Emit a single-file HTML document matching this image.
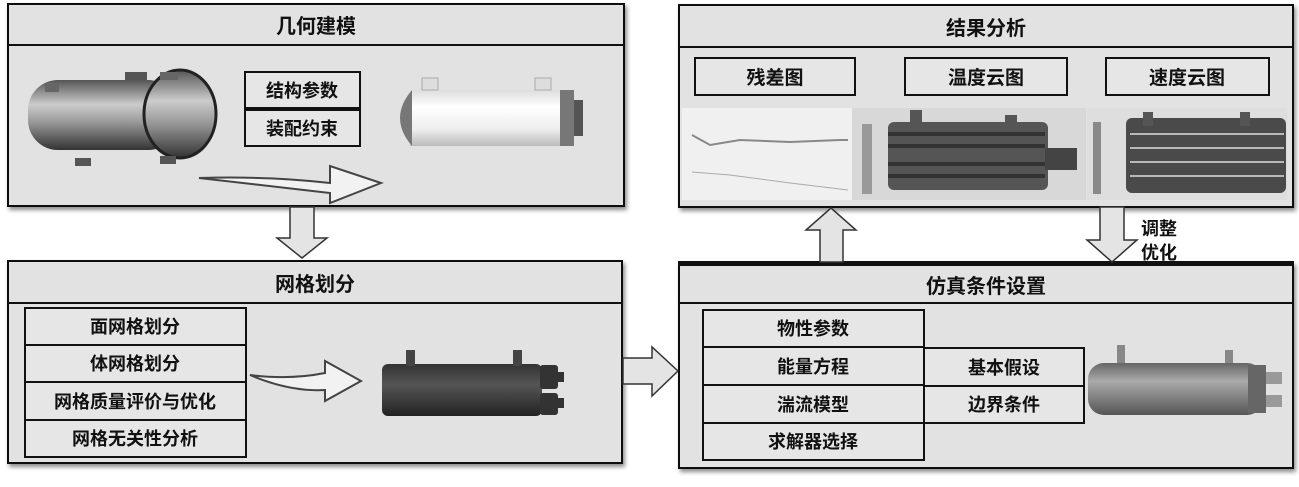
<!DOCTYPE html>
<html><head><meta charset="utf-8"><style>
body{margin:0;background:#fff;width:1299px;height:482px;overflow:hidden}
svg text{font-family:"Liberation Sans","Noto Sans CJK SC",sans-serif;font-weight:bold;fill:#111}
</style></head><body>
<svg width="1299" height="482" viewBox="0 0 1299 482" xmlns="http://www.w3.org/2000/svg">
<defs>
<filter id="sh" x="-5%" y="-5%" width="110%" height="115%"><feDropShadow dx="2" dy="3" stdDeviation="2" flood-color="#000" flood-opacity="0.45"/></filter>
<linearGradient id="metal" x1="0" y1="0" x2="0" y2="1"><stop offset="0" stop-color="#555"/><stop offset="0.35" stop-color="#ccc"/><stop offset="0.6" stop-color="#999"/><stop offset="1" stop-color="#333"/></linearGradient>
<linearGradient id="white" x1="0" y1="0" x2="0" y2="1"><stop offset="0" stop-color="#ddd"/><stop offset="0.3" stop-color="#fff"/><stop offset="0.7" stop-color="#eee"/><stop offset="1" stop-color="#bbb"/></linearGradient>
<linearGradient id="dark" x1="0" y1="0" x2="0" y2="1"><stop offset="0" stop-color="#333"/><stop offset="0.4" stop-color="#555"/><stop offset="1" stop-color="#222"/></linearGradient>
<linearGradient id="grey" x1="0" y1="0" x2="0" y2="1"><stop offset="0" stop-color="#666"/><stop offset="0.35" stop-color="#aaa"/><stop offset="1" stop-color="#555"/></linearGradient>
</defs>
<g stroke="#111" stroke-width="2">
<rect x="8" y="4" width="616" height="202" fill="#e2e2e2" filter="url(#sh)"/>
<line x1="8" y1="45" x2="624" y2="45"/>
<rect x="8" y="261" width="614" height="202" fill="#e2e2e2" filter="url(#sh)"/>
<line x1="8" y1="303" x2="622" y2="303"/>
<rect x="679" y="5" width="614" height="202" fill="#e2e2e2" filter="url(#sh)"/>
<line x1="679" y1="47" x2="1293" y2="47"/>
<rect x="679" y="263" width="614" height="205" fill="#e2e2e2" filter="url(#sh)"/>
<line x1="679" y1="303" x2="1293" y2="303"/>
<rect x="679" y="262" width="614" height="3" fill="#111"/>
</g>
<g font-size="20" text-anchor="middle">
<text x="316" y="33">几何建模</text>
<text x="315" y="291">网格划分</text>
<text x="986" y="35">结果分析</text>
<text x="986" y="293">仿真条件设置</text>
</g>
<!-- panel1 boxes -->
<g stroke="#111" stroke-width="2" fill="#e6e6e6">
<rect x="245" y="72" width="115" height="36"/><rect x="245" y="110" width="115" height="36"/>
</g>
<g font-size="18" text-anchor="middle"><text x="302" y="97">结构参数</text><text x="302" y="135">装配约束</text></g>
<!-- panel1 images -->
<rect x="28" y="80" width="150" height="70" rx="30" fill="url(#metal)"/>
<ellipse cx="180" cy="114" rx="36" ry="44" fill="url(#metal)" stroke="#222" stroke-width="3"/>
<rect x="125" y="72" width="22" height="8" fill="#555"/><rect x="160" y="72" width="18" height="8" fill="#666"/>
<rect x="45" y="84" width="14" height="8" fill="#666"/><rect x="75" y="158" width="16" height="8" fill="#555"/><rect x="160" y="156" width="16" height="8" fill="#555"/>
<rect x="410" y="90" width="152" height="56" fill="url(#white)"/>
<path d="M412 90 Q388 118 412 146 Z" fill="#777"/>
<rect x="560" y="90" width="14" height="56" fill="#777"/><rect x="574" y="100" width="9" height="36" fill="#555"/>
<rect x="422" y="78" width="16" height="12" fill="#ddd" stroke="#aaa"/><rect x="535" y="78" width="16" height="12" fill="#ddd" stroke="#aaa"/>
<path d="M199 178 Q270 176 330 183 L330 166 L381 183 L330 203 L330 193 Q270 186 199 178 Z" fill="#f2f2f2" stroke="#444" stroke-width="2"/>
<!-- panel2 list -->
<g stroke="#111" stroke-width="2" fill="#e6e6e6">
<rect x="25" y="308" width="221" height="37"/><rect x="25" y="345" width="221" height="37"/><rect x="25" y="382" width="221" height="38"/><rect x="25" y="420" width="221" height="37"/>
</g>
<g font-size="18" text-anchor="middle"><text x="135" y="333">面网格划分</text><text x="135" y="370">体网格划分</text><text x="135" y="408">网格质量评价与优化</text><text x="135" y="445">网格无关性分析</text></g>
<path d="M250 375 Q290 380 325 373 L325 361 L361 381 L325 401 L325 390 Q290 392 250 375 Z" fill="#f2f2f2" stroke="#444" stroke-width="2"/>
<rect x="382" y="364" width="160" height="52" rx="6" fill="url(#dark)"/>
<rect x="406" y="350" width="9" height="16" fill="#444"/><rect x="513" y="350" width="9" height="16" fill="#444"/>
<rect x="540" y="365" width="18" height="24" rx="3" fill="#333"/><rect x="540" y="393" width="18" height="22" rx="3" fill="#333"/>
<rect x="556" y="372" width="8" height="10" fill="#333"/><rect x="556" y="398" width="8" height="10" fill="#333"/>
<!-- results -->
<g stroke="#111" stroke-width="2" fill="#e6e6e6">
<rect x="695" y="58" width="160" height="37"/><rect x="905" y="58" width="162" height="37"/><rect x="1106" y="58" width="163" height="37"/>
</g>
<g font-size="19" text-anchor="middle"><text x="775" y="84">残差图</text><text x="986" y="84">温度云图</text><text x="1187" y="84">速度云图</text></g>
<rect x="682" y="108" width="170" height="92" fill="#f0f0f0"/>
<polyline points="692,135 710,145 740,140 790,142 840,140 848,140" fill="none" stroke="#888" stroke-width="2"/>
<polyline points="692,172 730,175 790,183 848,190" fill="none" stroke="#aaa"/>
<rect x="852" y="108" width="234" height="92" fill="#d8d8d8"/>
<rect x="888" y="122" width="160" height="68" rx="6" fill="#555"/>
<rect x="1045" y="148" width="32" height="22" fill="#444"/>
<g stroke="#333" stroke-width="4"><line x1="888" y1="134" x2="1045" y2="134"/><line x1="888" y1="146" x2="1045" y2="146"/><line x1="888" y1="164" x2="1045" y2="164"/><line x1="888" y1="176" x2="1045" y2="176"/></g>
<rect x="862" y="124" width="10" height="70" fill="#999"/>
<rect x="1087" y="108" width="200" height="92" fill="#dedede"/>
<rect x="1126" y="118" width="160" height="75" rx="6" fill="#4a4a4a"/>
<g stroke="#ddd" stroke-width="1.5"><line x1="1130" y1="134" x2="1284" y2="134"/><line x1="1130" y1="148" x2="1284" y2="148"/><line x1="1130" y1="162" x2="1284" y2="162"/><line x1="1130" y1="176" x2="1284" y2="176"/></g>
<rect x="1093" y="122" width="8" height="72" fill="#888"/>
<rect x="1143" y="112" width="10" height="14" fill="#555"/><rect x="1240" y="112" width="10" height="14" fill="#555"/>
<rect x="910" y="110" width="12" height="14" fill="#555"/><rect x="1005" y="115" width="12" height="14" fill="#555"/>
<!-- sim list -->
<g stroke="#111" stroke-width="2" fill="#e6e6e6">
<rect x="703" y="310" width="221" height="37"/><rect x="703" y="347" width="221" height="38"/><rect x="703" y="385" width="221" height="38"/><rect x="703" y="423" width="221" height="37"/>
<rect x="924" y="348" width="160" height="38"/><rect x="924" y="386" width="160" height="37"/>
</g>
<g font-size="18" text-anchor="middle"><text x="813" y="335">物性参数</text><text x="813" y="373">能量方程</text><text x="813" y="411">湍流模型</text><text x="813" y="448">求解器选择</text><text x="1004" y="374">基本假设</text><text x="1004" y="411">边界条件</text></g>
<rect x="1088" y="363" width="175" height="52" rx="16" fill="url(#grey)"/>
<rect x="1117" y="345" width="8" height="18" fill="#888"/><rect x="1225" y="350" width="8" height="13" fill="#888"/>
<rect x="1248" y="365" width="18" height="48" fill="#666"/>
<rect x="1266" y="372" width="16" height="12" fill="#999"/><rect x="1266" y="395" width="16" height="12" fill="#999"/>
<!-- arrows -->
<g fill="#e4e4e4" stroke="#333" stroke-width="1.5">
<path d="M290 207 L314 207 L314 238 L327 238 L302 258 L277 238 L290 238 Z"/>
<path d="M623 358 L652 358 L652 347 L678 371 L652 396 L652 384 L623 384 Z"/>
<path d="M820 262 L820 230 L806 230 L831 208 L856 230 L843 230 L843 262 Z"/>
<path d="M1100 207 L1124 207 L1124 240 L1137 240 L1112 262 L1087 240 L1100 240 Z"/>
</g>
<g font-size="18"><text x="1141" y="235">调整</text><text x="1141" y="259">优化</text></g>
</svg>
</body></html>
